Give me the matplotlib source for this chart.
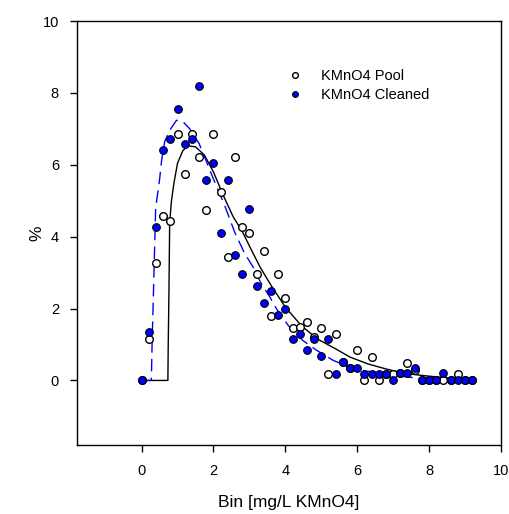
import matplotlib
matplotlib.use("Agg")
import matplotlib.pyplot as plt
import numpy as np

plt.rcParams['font.family'] = ['Liberation Sans', 'DejaVu Sans']

# bins (mg/L KMnO4)
bins = [0.0, 0.2, 0.4, 0.6, 0.8, 1.0, 1.2, 1.4, 1.6, 1.8, 2.0, 2.2, 2.4, 2.6, 2.8,
        3.0, 3.2, 3.4, 3.6, 3.8, 4.0, 4.2, 4.4, 4.6, 4.8, 5.0, 5.2, 5.4, 5.6, 5.8,
        6.0, 6.2, 6.4, 6.6, 6.8, 7.0, 7.2, 7.4, 7.6, 7.8, 8.0, 8.2, 8.4, 8.6, 8.8,
        9.0, 9.2]

# percent per bin
pool = [0.0, 1.16, 3.27, 4.58, 4.43, 6.87, 5.74, 6.87, 6.22, 4.75, 6.87, 5.23,
        3.44, 6.22, 4.27, 4.09, 2.95, 3.60, 1.80, 2.95, 2.29, 1.47, 1.50, 1.64,
        1.20, 1.47, 0.17, 1.30, 0.50, 0.35, 0.84, 0.0, 0.65, 0.0, 0.19, 0.19,
        0.20, 0.49, 0.30, 0.0, 0.0, 0.0, 0.0, 0.0, 0.17, 0.0, 0.0]
cleaned = [0.0, 1.35, 4.27, 6.41, 6.73, 7.54, 6.57, 6.73, 8.19, 5.59, 6.06, 4.10,
           5.57, 3.48, 2.97, 4.76, 2.63, 2.15, 2.48, 1.82, 1.98, 1.16, 1.30, 0.84,
           1.16, 0.67, 1.16, 0.19, 0.50, 0.35, 0.35, 0.19, 0.19, 0.19, 0.19, 0.02,
           0.20, 0.20, 0.35, 0.02, 0.0, 0.0, 0.20, 0.0, 0.0, 0.0, 0.0]

# fitted curves
fit_pool_x = [0, 0.73, 0.74, 0.76, 0.78, 0.83, 0.9, 1.0, 1.15, 1.3, 1.5, 1.75, 2.0,
              2.25, 2.55, 2.8, 3.06, 3.3, 3.6, 4.0, 4.45, 4.9, 5.4, 5.8, 6.3, 6.8,
              7.3, 7.8, 8.5, 9.2]
fit_pool_y = [0, 0, 1.0, 2.5, 4.4, 5.0, 5.5, 6.05, 6.4, 6.53, 6.5, 6.27, 5.8,
              5.2, 4.55, 4.15, 3.62, 3.15, 2.65, 2.04, 1.52, 1.15, 0.88, 0.65, 0.46,
              0.32, 0.2, 0.14, 0.07, 0.03]
fit_clean_x = [0, 0.27, 0.29, 0.33, 0.39, 0.5, 0.55, 0.64, 0.78, 0.97, 1.15, 1.34,
               1.6, 1.8, 2.0, 2.3, 2.6, 2.87, 3.1, 3.3, 3.57, 3.75, 4.08, 4.49,
               4.87, 5.33, 5.79, 6.2, 6.72, 7.28, 7.84, 8.5, 9.2]
fit_clean_y = [0, 0, 1.0, 2.5, 4.8, 5.6, 6.08, 6.64, 6.96, 7.24, 7.2, 7.0,
               6.59, 6.1, 5.6, 4.9, 4.1, 3.53, 3.16, 2.75, 2.32, 2.0, 1.53, 1.11,
               0.84, 0.56, 0.37, 0.27, 0.19, 0.11, 0.05, 0.02, 0.01]

fig = plt.figure(figsize=(5.1, 5.14), dpi=100)
ax = fig.add_axes([0.151, 0.134, 0.831, 0.825])

ax.plot(fit_pool_x, fit_pool_y, color='black', lw=1.0, zorder=2)
ax.plot(fit_clean_x, fit_clean_y, color='blue', lw=1.0, dashes=(9, 4.5), zorder=2)

ax.plot(bins, pool, 'o', ms=5.5, mfc='white', mec='black', mew=1.0,
        label='KMnO4 Pool', zorder=3)
ax.plot(bins, cleaned, 'o', ms=5.5, mfc='blue', mec='black', mew=0.8,
        label='KMnO4 Cleaned', zorder=4)

ax.set_xlim(-1.8, 10)
ax.set_ylim(-1.8, 10)
ax.set_xticks([0, 2, 4, 6, 8, 10])
ax.set_yticks([0, 2, 4, 6, 8, 10])
ax.tick_params(direction='out', length=5, width=1, labelsize=10.5)
ax.tick_params(axis='x', pad=8.5)
ax.tick_params(axis='y', pad=8)
for s in ax.spines.values():
    s.set_linewidth(1.0)

ax.set_xlabel('Bin [mg/L KMnO4]', fontsize=12.5, labelpad=12)
ax.set_ylabel('%', fontsize=12.5, labelpad=-1.5)

ax.legend(loc='upper left', bbox_to_anchor=(0.466, 0.918), frameon=False,
          fontsize=10.5, handlelength=1.0, handletextpad=1.3, labelspacing=0.35,
          markerscale=0.75)

fig.savefig('out.png', dpi=100)
